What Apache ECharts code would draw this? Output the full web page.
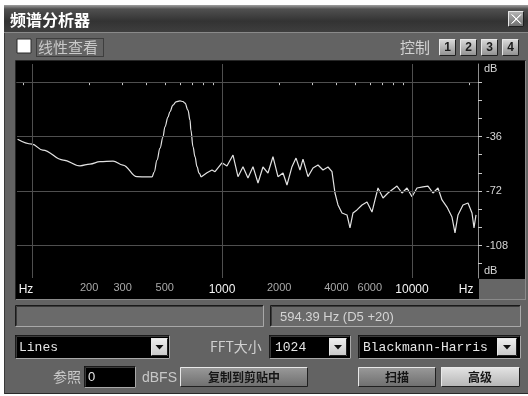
<!DOCTYPE html>
<html><head><meta charset="utf-8">
<script src="https://cdn.jsdelivr.net/npm/echarts@6/dist/echarts.min.js"></script>
<style>html,body{margin:0;padding:0;background:#fff;}#c{width:528px;height:396px;}</style>
</head><body><div id="c"></div>
<script>
// ---- data ----
// smooth low-frequency part (up to the end of the resonance peak)
const lowFreqHz = [84,100,114,146,179,202,228,267,301,357,403,428,440,455,472,489,501,520,532,552,573,601,623,639,662,679,686,704,721,739,757,776];
const lowLevelDb = [-37.8,-41.0,-44.9,-51.5,-55.3,-54.2,-52.6,-52.2,-54.8,-62.5,-62.7,-62.7,-59.4,-51.5,-43.6,-36.3,-29.5,-23.1,-19.6,-15.2,-13.0,-12.4,-12.8,-13.9,-18.5,-25.1,-31.7,-42.7,-49.3,-55.9,-60.1,-62.7];
// jagged high-frequency part
const highFreqHz = [776,834,886,919,1000,1062,1143,1214,1290,1370,1456,1547,1643,1746,1855,1971,2095,2198,2336,2453,2573,2669,2836,3013,3201,3401,3614,3793,3933,4079,4281,4549,4718,4893,5134,5457,5797,6158,6388,6625,7038,7477,8339,8861,9412,10000,10624,11429,12140,12899,13704,14384,15285,16238,16840,17465,18555,19714,20694,21202,21723];
const highLevelDb = [-62.7,-59.9,-58.1,-59.2,-53.3,-55.5,-48.2,-62.5,-55.9,-63.4,-55.9,-66.7,-56.1,-60.1,-49.3,-62.5,-60.1,-68.0,-55.9,-50.2,-58.1,-50.9,-62.5,-56.8,-54.8,-58.1,-56.1,-59.2,-73.3,-81.2,-86.5,-87.8,-96.4,-86.5,-84.5,-81.2,-79.3,-85.9,-77.9,-70.0,-76.6,-73.3,-68.7,-73.3,-70.0,-75.8,-70.0,-69.2,-68.7,-73.3,-70.0,-77.9,-82.6,-89.2,-99.7,-87.8,-81.2,-79.9,-86.5,-96.4,-87.8];
const xLabelFreqs = [100,200,300,500,1000,2000,4000,6000,10000,20000];
const xLabelTexts = ['Hz','200','300','500','1000','2000','4000','6000','10000','Hz'];
const xLabelStyle = ['hzL','lo','lo','lo','hi','lo','lo','lo','hi','hzR'];
const xTickFreqs = [90,100,200,300,400,500,600,700,800,900,1000,2000,3000,4000,5000,6000,7000,8000,9000,10000,20000];
const xGridFreqs = [100,1000,10000];
const yTickDb = [0,-12,-24,-36,-48,-60,-72,-84,-96,-108,-120];
const yLabelDb = [-36,-72,-108];
const yGridDb = [0,-36,-72,-108];
const fMin = 83.4, fMax = 22255;
const dbMin = -129.5, dbMax = 12;

const lg = Math.log10;
const CJK = "'Noto Sans CJK SC'";
const SANS = "'Liberation Sans', Arial";
const MONO = "'Liberation Mono', monospace";

// ---- window chrome (graphic elements) ----
const G = [];
function R(x,y,w,h,fill,z,stroke,dash){G.push({type:'rect',shape:{x,y,width:w,height:h},style:{fill,stroke:stroke||null,lineWidth:1,lineDash:dash||null},z:z??-6,silent:true});}
function L(x1,y1,x2,y2,stroke,z){G.push({type:'line',shape:{x1,y1,x2,y2},style:{stroke,lineWidth:1},z:z??-5,silent:true});}
function T(x,y,text,font,fill,align,z){G.push({type:'text',x,y,style:{text,font,fill,align:align||'left',verticalAlign:'middle'},z:z??10,silent:true});}
function grad(c1,c2){return {type:'linear',x:0,y:0,x2:0,y2:1,colorStops:[{offset:0,color:c1},{offset:1,color:c2}]};}
function sunken(x,y,w,h,fill){
  R(x,y,w,h,fill);
  L(x+.5,y+.5,x+w-.5,y+.5,'#1a1a1a'); L(x+.5,y+.5,x+.5,y+h-.5,'#1a1a1a');
  L(x+1.5,y+1.5,x+w-1.5,y+1.5,'#3a3a3a'); L(x+1.5,y+1.5,x+1.5,y+h-1.5,'#3a3a3a');
  L(x+.5,y+h-.5,x+w-.5,y+h-.5,'#a8a8a8'); L(x+w-.5,y+.5,x+w-.5,y+h-.5,'#a8a8a8');
}
function raised(x,y,w,h,c1,c2){
  R(x,y,w,h,grad(c1,c2));
  L(x+.5,y+.5,x+w-.5,y+.5,'#e8e8e8'); L(x+.5,y+.5,x+.5,y+h-.5,'#e8e8e8');
  L(x+.5,y+h-.5,x+w-.5,y+h-.5,'#202020'); L(x+w-.5,y+.5,x+w-.5,y+h-.5,'#202020');
}
function dropBtn(x,y,w,h){
  raised(x,y,w,h,'#f0f0f0','#c8c8c8');
  const cx=x+w/2, cy=y+h/2;
  G.push({type:'polygon',shape:{points:[[cx-4,cy-2],[cx+4,cy-2],[cx,cy+2.5]]},style:{fill:'#101010'},z:-3,silent:true});
}

// window body
R(4,5,524,389,'#636363',-8);
L(4,393.5,528,393.5,'#2a2a2a',-5);
L(4.5,32,4.5,394,'#3a3a3a',-5);
// title bar
R(4,5,524,27,{type:'linear',x:0,y:0,x2:0,y2:1,colorStops:[{offset:0,color:'#a0a0a0'},{offset:0.15,color:'#505050'},{offset:0.6,color:'#333333'},{offset:1,color:'#3e3e3e'}]},-7);
L(4,32.5,528,32.5,'#8a8a8a',-5);
T(10,20,'频谱分析器','bold 16px '+CJK,'#ffffff');
// close button
raised(508,11,16,16,'#b8b8b8','#6a6a6a');
L(511.5,14.5,520.5,23.5,'#ffffff',-3); L(520.5,14.5,511.5,23.5,'#ffffff',-3);
L(512,14.5,521,23.5,'#ffffff',-3); L(521,14.5,512,23.5,'#ffffff',-3);
// linear view checkbox
R(17,39,14,14,'#ffffff',-6,'#2a2a2a');
R(36.5,38.5,67,18,'transparent',-5,'#1a1a1a',[1,1]);
T(38,47,'线性查看','15px '+CJK,'#c9c9c9');
// control buttons
T(400,47,'控制','15px '+CJK,'#d2d2d2');
[['1',439],['2',460],['3',481],['4',502]].forEach(([s,x])=>{
  raised(x,39,17,17,'#dcdcdc','#8e8e8e');
  T(x+8.5,47.5,s,'bold 12px '+SANS,'#1a1a1a','center');
});
// plot backdrop
R(16,61,509,238,'#000000',-7);
L(15.5,60.5,525.5,60.5,'#262626',-5); L(15.5,60.5,15.5,299.5,'#262626',-5);
R(479,279,46,20,'#666666',-6);
L(525.5,61,525.5,300,'#8a8a8a',-5);
L(16,299.5,526,299.5,'#8a8a8a',-5);
T(484,69,'dB','11px '+SANS,'#d8d8d8');
T(484,271,'dB','11px '+SANS,'#d8d8d8');
// status boxes
sunken(15,305,249,22,'#6a6a6a');
sunken(270,305,251,22,'#6a6a6a');
T(280,317,'594.39 Hz (D5 +20)','13px '+SANS,'#d4d4d4');
// row 2
sunken(15,335,155,24,'#000000');
T(19,348,'Lines','13px '+MONO,'#e6e6e6');
dropBtn(151,338,17,18);
T(210,347,'FFT大小','14px '+CJK,'#d0d0d0');
sunken(269,335,82,24,'#000000');
T(275,348,'1024','13px '+MONO,'#e6e6e6');
dropBtn(329,338,18,18);
sunken(358,335,163,24,'#000000');
T(363,348,'Blackmann-Harris','13px '+MONO,'#e6e6e6');
dropBtn(497,338,20,18);
// row 3
T(53,377,'参照','14px '+CJK,'#c8c8c8');
sunken(84,366,52,22,'#000000');
T(88,377,'0','13px '+SANS,'#e6e6e6');
T(142,378,'dBFS','14px '+SANS,'#c8c8c8');
raised(180,367,128,20,'#9a9a9a','#6e6e6e');
T(244,377,'复制到剪贴中','bold 12px '+CJK,'#151515','center');
raised(358,367,78,20,'#9a9a9a','#6e6e6e');
T(397,377,'扫描','bold 12px '+CJK,'#151515','center');
raised(441,367,79,20,'#e4e4e4','#b4b4b4');
T(480,377,'高级','bold 12px '+CJK,'#151515','center');

// ---- chart ----
const chart = echarts.init(document.getElementById('c'), null, {renderer:'canvas'});
const labelIndex = v => xLabelFreqs.findIndex(f => Math.abs(lg(f)-v) < 1e-6);
const curveStyle = {color:'#e2e2e2',width:1.2};
chart.setOption({
  animation:false,
  backgroundColor:'#ffffff',
  grid:{left:17,right:50,top:64,bottom:118},
  xAxis:{
    type:'value', min:lg(fMin), max:lg(fMax),
    axisLine:{show:true,lineStyle:{color:'#8e8e8e',width:1}},
    axisTick:{show:true,customValues:xTickFreqs.map(lg),length:3,lineStyle:{color:'#c8c8c8'}},
    axisLabel:{show:true,customValues:xLabelFreqs.map(lg),margin:4,fontFamily:SANS,
      formatter:v=>{const i=labelIndex(v); if(i<0) return ''; return '{'+xLabelStyle[i]+'|'+xLabelTexts[i]+'}';},
      rich:{
        hi:{color:'#f4f4f4',fontSize:12,fontFamily:SANS,padding:[2,0,0,0]},
        lo:{color:'#a9a9a9',fontSize:11,fontFamily:SANS},
        hzL:{color:'#f4f4f4',fontSize:12,fontFamily:SANS,padding:[2,12,0,0]},
        hzR:{color:'#f4f4f4',fontSize:12,fontFamily:SANS,padding:[2,6,0,0]}
      }},
    splitLine:{show:false}
  },
  yAxis:{
    type:'value', position:'right', min:dbMin, max:dbMax,
    axisLine:{show:true,lineStyle:{color:'#8e8e8e',width:1}},
    axisTick:{show:true,customValues:yTickDb,length:4,lineStyle:{color:'#c8c8c8'}},
    axisLabel:{show:true,customValues:yLabelDb,margin:8,color:'#d6d6d6',fontSize:11,fontFamily:SANS,formatter:v=>String(v)},
    splitLine:{show:false}
  },
  series:[
    {type:'line',z:1,data:[],silent:true,
     markLine:{silent:true,symbol:'none',label:{show:false},animation:false,
       lineStyle:{color:'#4f4f4f',type:'solid',width:1},
       data:[...xGridFreqs.map(f=>({xAxis:lg(f)})), ...yGridDb.map(d=>({yAxis:d}))]}},
    {type:'line',z:3,showSymbol:false,silent:true,smooth:0.4,smoothMonotone:'x',clip:true,
     lineStyle:curveStyle,
     data:lowFreqHz.map((f,i)=>[lg(f),lowLevelDb[i]])},
    {type:'line',z:3,showSymbol:false,silent:true,smooth:false,clip:true,
     lineStyle:curveStyle,
     data:highFreqHz.map((f,i)=>[lg(f),highLevelDb[i]])}
  ],
  graphic:{elements:G}
});
</script>
</body></html>
